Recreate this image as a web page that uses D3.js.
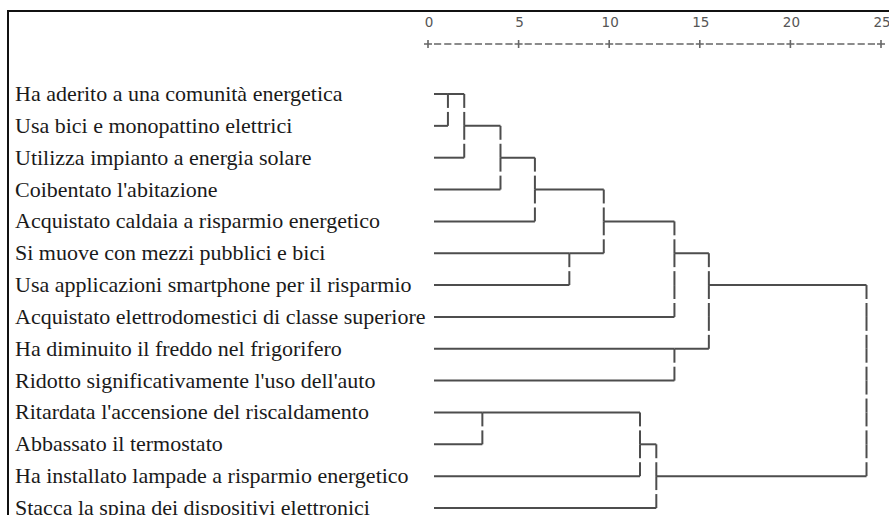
<!DOCTYPE html>
<html>
<head>
<meta charset="utf-8">
<script src="https://cdn.jsdelivr.net/npm/d3@7"></script>
<style>
  body { margin: 0; background: #fff; }
</style>
</head>
<body>
<div id="chart"></div>
<script>
// leaves, top to bottom as in the dendrogram
const items = [
  "Ha aderito a una comunità energetica",
  "Usa bici e monopattino elettrici",
  "Utilizza impianto a energia solare",
  "Coibentato l'abitazione",
  "Acquistato caldaia a risparmio energetico",
  "Si muove con mezzi pubblici e bici",
  "Usa applicazioni smartphone per il risparmio",
  "Acquistato elettrodomestici di classe superiore",
  "Ha diminuito il freddo nel frigorifero",
  "Ridotto significativamente l'uso dell'auto",
  "Ritardata l'accensione del riscaldamento",
  "Abbassato il termostato",
  "Ha installato lampade a risparmio energetico",
  "Stacca la spina dei dispositivi elettronici"
];

// agglomeration schedule (cluster = its first leaf, 1-based) and rescaled distance
const joinA = [1, 1, 11, 1, 1, 6, 1, 11, 11, 1, 9, 1, 1];
const joinB = [2, 3, 12, 4, 5, 7, 6, 13, 14, 8, 10, 9, 11];
const rescaledDist = [1.1, 2.0, 3.0, 4.0, 5.9, 7.8, 9.7, 11.7, 12.6, 13.6, 13.6, 15.5, 24.2];

const tickValues = [0, 5, 10, 15, 20, 25];

const width = 889, height = 515;
const svg = d3.select("#chart")
  .append("svg")
  .attr("width", width)
  .attr("height", height);

const x = d3.scaleLinear().domain([0, 25]).range([428, 881]);
const y = d3.scaleLinear().domain([0, items.length - 1]).range([94, 508]);
const step = y(1) - y(0);
const lineColor = "#4d4d4d";

// frame
svg.append("path")
  .attr("d", `M8,${height} V11 H${width}`)
  .attr("fill", "none")
  .attr("stroke", "#111")
  .attr("stroke-width", 2);

// axis: numbers, then +-------+ row
svg.selectAll("text.tick")
  .data(tickValues)
  .enter()
  .append("text")
  .attr("class", "tick")
  .attr("x", d => x(d) + 1)
  .attr("y", 27)
  .attr("text-anchor", "middle")
  .attr("font-family", "DejaVu Sans, sans-serif")
  .attr("font-size", 13.5)
  .attr("fill", "#555")
  .text(d => d);

const axisY = 44;
const dashGap = 3;
tickValues.slice(0, -1).forEach(t => {
  const x0 = x(t) + 6, x1 = x(t + 5) - 6;
  const dash = ((x1 - x0) - 7 * dashGap) / 8;
  svg.append("line")
    .attr("x1", x0).attr("x2", x1)
    .attr("y1", axisY).attr("y2", axisY)
    .attr("stroke", "#666")
    .attr("stroke-width", 1.6)
    .attr("stroke-dasharray", `${dash},${dashGap}`);
});
svg.selectAll("path.plus")
  .data(tickValues)
  .enter()
  .append("path")
  .attr("class", "plus")
  .attr("d", d => `M${x(d) - 4},${axisY} H${x(d) + 4} M${x(d)},${axisY - 4} V${axisY + 4}`)
  .attr("stroke", "#666")
  .attr("stroke-width", 1.6);

// leaf labels
svg.selectAll("text.leaf")
  .data(items)
  .enter()
  .append("text")
  .attr("class", "leaf")
  .attr("x", 15)
  .attr("y", (d, i) => y(i) + 7)
  .attr("font-family", "Liberation Serif, Times New Roman, serif")
  .attr("font-size", 22)
  .attr("fill", "#1a1a1a")
  .text(d => d);

// tree
const g = svg.append("g")
  .attr("stroke", lineColor)
  .attr("stroke-width", 2)
  .attr("fill", "none");

const clusters = {};
items.forEach((d, i) => { clusters[i + 1] = { row: i, x: x(0) + 6 }; });

const gap = 4;
function vertical(xv, r0, r1) {
  for (let r = r0; r < r1; r++) {
    const mid = y(r) + step / 2;
    g.append("line").attr("x1", xv).attr("x2", xv)
      .attr("y1", y(r)).attr("y2", mid - gap / 2);
    g.append("line").attr("x1", xv).attr("x2", xv)
      .attr("y1", mid + gap / 2).attr("y2", y(r + 1));
  }
}

joinA.forEach((a, i) => {
  const ca = clusters[a], cb = clusters[joinB[i]];
  const xm = x(rescaledDist[i]);
  g.append("line").attr("x1", ca.x).attr("x2", xm)
    .attr("y1", y(ca.row)).attr("y2", y(ca.row));
  g.append("line").attr("x1", cb.x).attr("x2", xm)
    .attr("y1", y(cb.row)).attr("y2", y(cb.row));
  const r0 = Math.min(ca.row, cb.row), r1 = Math.max(ca.row, cb.row);
  vertical(xm, r0, r1);
  clusters[a] = { row: Math.floor((r0 + r1) / 2), x: xm };
  delete clusters[joinB[i]];
});
</script>
</body>
</html>
